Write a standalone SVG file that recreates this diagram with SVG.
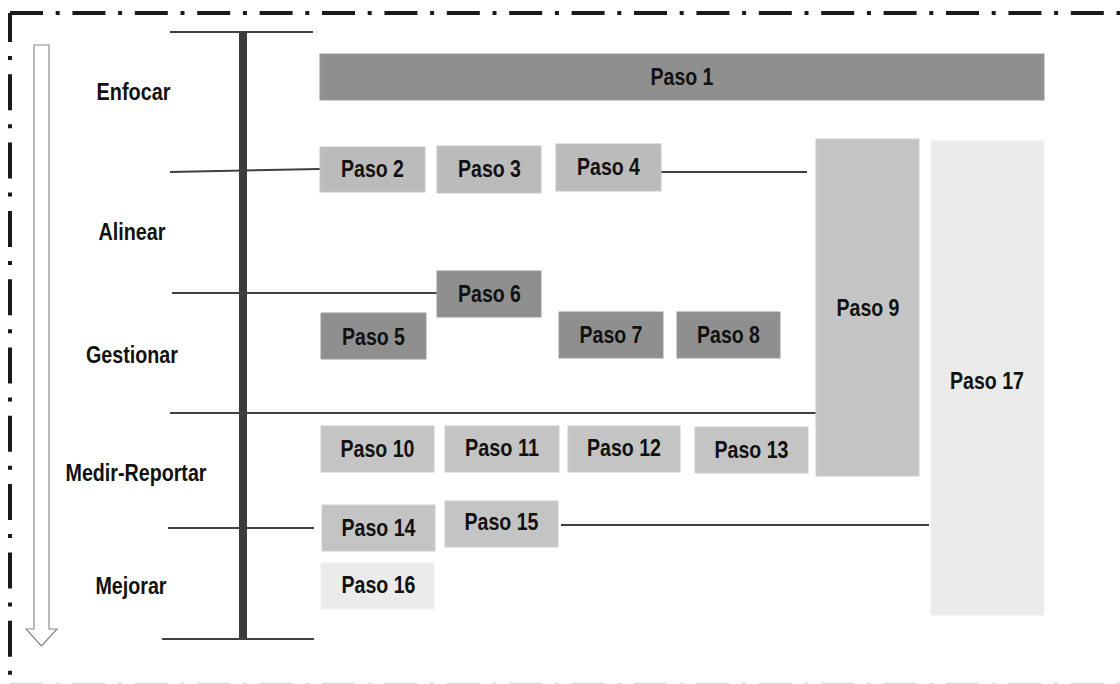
<svg xmlns="http://www.w3.org/2000/svg" width="1120" height="684" viewBox="0 0 1120 684">
<style>
.t{font-family:"Liberation Sans",Arial,sans-serif;font-weight:bold;font-size:24px;fill:#111;text-anchor:middle}
.dk{fill:#8f8f8f;stroke:#9a9a9a;stroke-width:1}
.md{fill:#bbbbbb;stroke:#c6c6c6;stroke-width:1}
.lt{fill:#c4c4c4;stroke:#cdcdcd;stroke-width:1}
.xl{fill:#ebebeb;stroke:#f0f0f0;stroke-width:1}
.ln{stroke:#404040;stroke-width:2;fill:none}
.bd{stroke:#1a1a1a;stroke-width:4;fill:none}
</style>
<rect width="1120" height="684" fill="#ffffff"/>
<g id="border">
<path class="bd" d="M10,13 H1120" stroke-dasharray="33 12.7 4 12.7"/>
<path class="bd" d="M10,13 V684" stroke-dasharray="36 14 4 14.3" stroke-dashoffset="7"/>
<path d="M10,683.5 H1120" stroke="#d8d8d8" stroke-width="1.5" fill="none" stroke-dasharray="33 12.7 4 12.7"/>
</g>
<g id="arrow">
<path d="M34,45 H49 V629 H57 L41.5,646 L26,629 H34 Z" fill="#ffffff" stroke="#8a8a8a" stroke-width="1.2"/>
</g>
<g id="connectors">
<rect x="239" y="32" width="8" height="607" fill="#3a3a3a"/>
<line class="ln" x1="170" y1="32" x2="313" y2="32"/>
<line class="ln" x1="170" y1="172" x2="320" y2="169"/>
<line class="ln" x1="657" y1="172" x2="807" y2="172"/>
<line class="ln" x1="172" y1="293" x2="437" y2="293"/>
<line class="ln" x1="170" y1="413" x2="816" y2="413"/>
<line class="ln" x1="168" y1="528" x2="314" y2="528"/>
<line class="ln" x1="561" y1="525" x2="929" y2="525"/>
<line class="ln" x1="162" y1="639" x2="314" y2="639"/>
</g>
<g id="stage-enfocar"><text class="t" x="133.5" y="100" textLength="74" lengthAdjust="spacingAndGlyphs">Enfocar</text></g>
<g id="stage-alinear"><text class="t" x="132" y="240" textLength="67" lengthAdjust="spacingAndGlyphs">Alinear</text></g>
<g id="stage-gestionar"><text class="t" x="132" y="363" textLength="92" lengthAdjust="spacingAndGlyphs">Gestionar</text></g>
<g id="stage-medir"><text class="t" x="136" y="481" textLength="141" lengthAdjust="spacingAndGlyphs">Medir-Reportar</text></g>
<g id="stage-mejorar"><text class="t" x="131" y="594" textLength="71" lengthAdjust="spacingAndGlyphs">Mejorar</text></g>
<g id="paso1"><rect class="dk" x="320" y="54" width="724" height="46"/><text class="t" x="682" y="85" textLength="63" lengthAdjust="spacingAndGlyphs">Paso 1</text></g>
<g id="paso2"><rect class="md" x="320" y="147" width="105" height="45"/><text class="t" x="372.5" y="177" textLength="63" lengthAdjust="spacingAndGlyphs">Paso 2</text></g>
<g id="paso3"><rect class="md" x="437" y="146" width="104" height="47"/><text class="t" x="489.5" y="177" textLength="63" lengthAdjust="spacingAndGlyphs">Paso 3</text></g>
<g id="paso4"><rect class="md" x="556" y="144" width="105" height="47"/><text class="t" x="608.5" y="175" textLength="63" lengthAdjust="spacingAndGlyphs">Paso 4</text></g>
<g id="paso9"><rect class="lt" x="816" y="139" width="103" height="337"/><text class="t" x="868" y="316" textLength="63" lengthAdjust="spacingAndGlyphs">Paso 9</text></g>
<g id="paso17"><rect class="xl" x="931" y="141" width="113" height="474"/><text class="t" x="987" y="389" textLength="74" lengthAdjust="spacingAndGlyphs">Paso 17</text></g>
<g id="paso6"><rect class="dk" x="437" y="271" width="104" height="46"/><text class="t" x="489.5" y="302" textLength="63" lengthAdjust="spacingAndGlyphs">Paso 6</text></g>
<g id="paso5"><rect class="dk" x="321" y="313" width="105" height="46"/><text class="t" x="373.5" y="345" textLength="63" lengthAdjust="spacingAndGlyphs">Paso 5</text></g>
<g id="paso7"><rect class="dk" x="559" y="312" width="104" height="46"/><text class="t" x="611" y="343" textLength="63" lengthAdjust="spacingAndGlyphs">Paso 7</text></g>
<g id="paso8"><rect class="dk" x="677" y="312" width="103" height="46"/><text class="t" x="728.5" y="343" textLength="63" lengthAdjust="spacingAndGlyphs">Paso 8</text></g>
<g id="paso10"><rect class="lt" x="321" y="426" width="113" height="46"/><text class="t" x="377.5" y="457" textLength="74" lengthAdjust="spacingAndGlyphs">Paso 10</text></g>
<g id="paso11"><rect class="lt" x="445" y="426" width="114" height="46"/><text class="t" x="502" y="456" textLength="74" lengthAdjust="spacingAndGlyphs">Paso 11</text></g>
<g id="paso12"><rect class="lt" x="568" y="426" width="112" height="46"/><text class="t" x="624" y="456" textLength="74" lengthAdjust="spacingAndGlyphs">Paso 12</text></g>
<g id="paso13"><rect class="lt" x="695" y="427" width="113" height="46"/><text class="t" x="751.5" y="458" textLength="74" lengthAdjust="spacingAndGlyphs">Paso 13</text></g>
<g id="paso14"><rect class="lt" x="322" y="505" width="113" height="46"/><text class="t" x="378.5" y="536" textLength="74" lengthAdjust="spacingAndGlyphs">Paso 14</text></g>
<g id="paso15"><rect class="lt" x="445" y="501" width="113" height="46"/><text class="t" x="501.5" y="530" textLength="74" lengthAdjust="spacingAndGlyphs">Paso 15</text></g>
<g id="paso16"><rect class="xl" x="321" y="563" width="113" height="46"/><text class="t" x="378.5" y="593" textLength="74" lengthAdjust="spacingAndGlyphs">Paso 16</text></g>
</svg>
